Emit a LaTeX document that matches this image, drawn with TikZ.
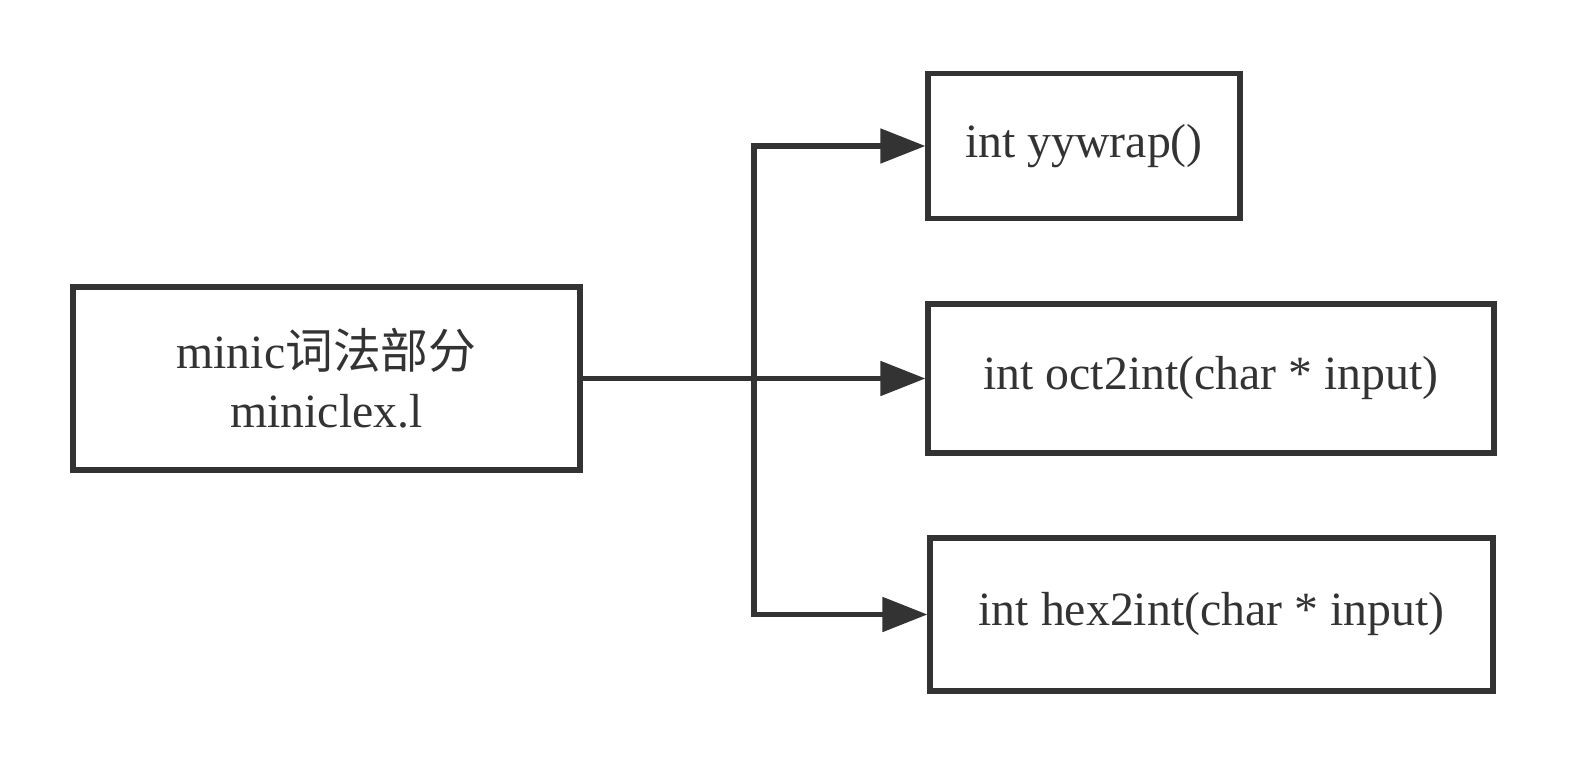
\documentclass[tikz,border=0pt]{standalone}
\usepackage{fontspec}
\setmainfont{Liberation Serif}
\newfontfamily\cjk{Noto Sans CJK SC}
\usetikzlibrary{arrows.meta}
\definecolor{ink}{HTML}{333333}
\begin{document}
\begin{tikzpicture}[x=0.02cm,y=-0.02cm,
  box/.style={draw=ink,line width=3pt,inner sep=0pt,align=center,text=ink,
    font=\fontsize{27.2}{33.5}\selectfont},
  arr/.style={draw=ink,line width=2.9pt,-{Triangle[length=0.9cm,width=0.68cm]}}]
\useasboundingbox (0,0) rectangle (1590,777);
\node[box,minimum width=10.14cm,minimum height=3.66cm] (src) at (326.5,378.5)
  {minic{\cjk 词法部分}\\miniclex.l};
\node[box,minimum width=6.24cm,minimum height=2.9cm] (top) at (1084,146)
  {int yywrap()};
\node[box,minimum width=11.32cm,minimum height=2.98cm] (mid) at (1211,378.5)
  {int oct2int(char * input)};
\node[box,minimum width=11.26cm,minimum height=3.06cm] (bot) at (1211.5,614.5)
  {int hex2int(char * input)};
\coordinate (j) at (754,378.5);
\draw[arr] (src.east) -- (mid.west);
\draw[arr] (j) |- (top.west);
\draw[arr] (j) |- (bot.west);
\end{tikzpicture}
\end{document}
